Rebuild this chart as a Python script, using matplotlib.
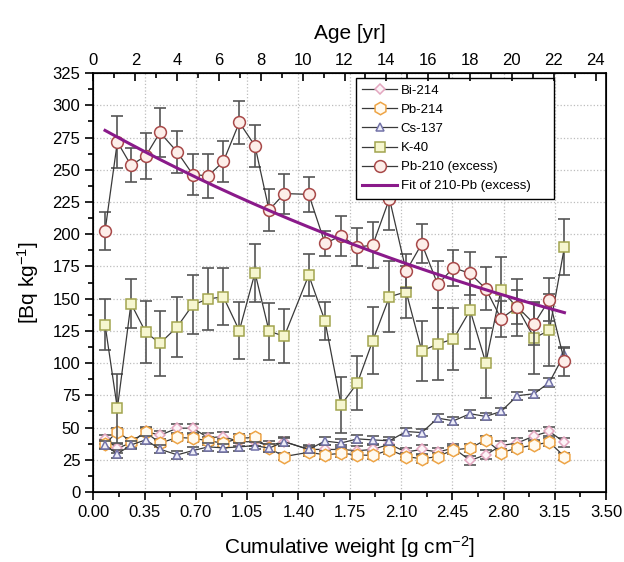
import numpy as np
import matplotlib
matplotlib.use("Agg")
import matplotlib.pyplot as plt
from matplotlib.ticker import MultipleLocator, FormatStrFormatter

plt.rcParams['font.family'] = ['Liberation Sans', 'DejaVu Sans']
plt.rcParams['mathtext.default'] = 'regular'

# ---- data ----
cum_weight = [0.079, 0.163, 0.256, 0.357, 0.454, 0.572, 0.678, 0.784, 0.887, 0.996,
              1.103, 1.199, 1.303, 1.470, 1.581, 1.691, 1.802, 1.907, 2.021, 2.135,
              2.242, 2.351, 2.458, 2.572, 2.679, 2.783, 2.895, 3.009, 3.113, 3.216]

bi214 = [41, 34, 38, 47, 44, 49.5, 49.5, 42, 43, 39, 39, 36, 39, 33, 33,
         33, 32, 33, 37, 31, 33, 31, 34, 24.5, 28.8, 36, 38, 43.5, 47, 38.5]
bi214_err = [3.5] * 30

pb214 = [37.1, 46.9, 39.1, 46.4, 37.9, 42.3, 41.7, 39.7, 37.9, 41.7, 42.3, 34.0, 27.5, 30.8, 28.8,
         30.0, 28.8, 28.3, 32.7, 27.5, 25.7, 27.5, 32.7, 34.0, 40.4, 30.6, 34.0, 36.5, 38.6, 27.5]
pb214_err = [3.0] * 30

cs137 = [36.5, 29.5, 36.5, 40.4, 33.2, 28.8, 32.1, 35.0, 34.2, 35.0, 36.0, 34.0, 39.0, 33.0, 39.5,
         38.0, 41.2, 40.4, 39.7, 46.9, 46.1, 57.3, 55.2, 60.7, 58.6, 62.5, 74.7, 76.2, 85.0, 107.0]
cs137_err = [3, 3, 3, 3, 3, 3, 3, 3, 3, 3, 3, 3, 3, 3, 3,
             3, 3, 3, 3, 3, 3, 3, 3, 3, 3, 3, 3, 3, 3.5, 5]

k40 = [129.9, 64.8, 146.2, 123.9, 115.3, 128.1, 145.2, 149.8, 151.4, 125.2, 170.1, 124.7, 120.8, 168.2, 132.7,
       67.5, 84.5, 117.4, 151.4, 155.3, 109.4, 114.8, 118.7, 141.0, 100.1, 157.0, 143.0, 119.5, 125.4, 190.0]
k40_err = [20, 27, 19, 24, 25, 23, 23, 24, 22, 22, 22.6, 22, 21, 16.5, 15,
           21.6, 21, 26, 27.6, 20, 23, 27.6, 24, 30, 27, 25, 22, 28, 28, 22]

pb210 = [202.4, 271.6, 253.5, 260.7, 278.9, 263.8, 246.3, 245.2, 256.4, 286.7, 268.5, 218.7, 231.5, 230.9, 192.8,
         198.8, 190.0, 191.5, 227.6, 171.3, 192.6, 161.0, 174.0, 169.5, 157.6, 134.5, 143.6, 130.4, 149.3, 101.3]
pb210_err = [14.6, 20, 13, 17.7, 18.7, 16.6, 16, 17, 16, 16.8, 16.5, 16, 15.5, 13.6, 10,
             15.5, 14.8, 17.8, 24, 13, 15, 18, 14, 17, 16.6, 14, 13, 16, 17, 11]

# exponential fit parameters of excess 210-Pb
fit_A0 = 285.5
fit_lambda = 0.2235

age_limits = (0, 24.5)

# ---- figure ----
fig = plt.figure(figsize=(6.24, 5.62), dpi=100)
ax = fig.add_axes([0.1498, 0.1246, 0.8214, 0.7454])

line_c = '#3a3a3a'
err_c = '#555555'

series = [
    ("Bi-214", bi214, bi214_err, 'D', 5.0, '#e3a6bf', '#fdf4f8'),
    ("Pb-214", pb214, pb214_err, 'h', 9.0, '#eea445', '#fffaf0'),
    ("Cs-137", cs137, cs137_err, '^', 6.0, '#7272a8', '#eeeef8'),
    ("K-40", k40, k40_err, 's', 7.5, '#a2a44e', '#f6f6cf'),
    ("Pb-210 (excess)", pb210, pb210_err, 'o', 8.5, '#a84848', '#fdeee9'),
]

for i, (lab, vals, errs, mk, ms, ec, fc) in enumerate(series):
    ax.errorbar(cum_weight, vals, yerr=errs, fmt='none', ecolor=err_c,
                elinewidth=1.2, capsize=4, capthick=1.2, zorder=2 + 2 * i)
    ax.plot(cum_weight, vals, color=line_c, linewidth=0.9, marker=mk, markersize=ms,
            markeredgecolor=ec, markerfacecolor=fc, markeredgewidth=1.1,
            label=lab, zorder=3 + 2 * i)

xf = np.linspace(cum_weight[0], cum_weight[-1], 200)
ax.plot(xf, fit_A0 * np.exp(-fit_lambda * xf), color='#8a1a8a', linewidth=2.2,
        label="Fit of 210-Pb (excess)", zorder=20)

ax.set_xlim(0, 3.5)
ax.set_ylim(0, 325)
ax.xaxis.set_major_locator(MultipleLocator(0.35))
ax.xaxis.set_minor_locator(MultipleLocator(0.175))
ax.xaxis.set_major_formatter(FormatStrFormatter('%.2f'))
ax.yaxis.set_major_locator(MultipleLocator(25))
ax.yaxis.set_minor_locator(MultipleLocator(12.5))
ax.tick_params(axis='both', which='major', direction='out', length=6, width=1.2, labelsize=12)
ax.tick_params(axis='both', which='minor', direction='out', length=3.5, width=1.2)
ax.tick_params(axis='x', which='both', top=False)
ax.tick_params(axis='y', which='both', right=False)
ax.grid(True, which='major', linestyle=':', color='#bdbdbd', linewidth=0.9)
ax.set_axisbelow(True)
for s in ax.spines.values():
    s.set_linewidth(1.2)

ax.set_xlabel("Cumulative weight [g cm$^{-2}$]", fontsize=15, labelpad=10)
ax.set_ylabel("[Bq kg$^{-1}$]", fontsize=15, labelpad=8)

ax2 = ax.twiny()
ax2.set_xlim(*age_limits)
ax2.xaxis.set_major_locator(MultipleLocator(2))
ax2.xaxis.set_minor_locator(MultipleLocator(1))
ax2.tick_params(axis='x', which='major', direction='in', length=6, width=1.2, labelsize=12)
ax2.tick_params(axis='x', which='minor', direction='in', length=3.5, width=1.2)
ax2.set_xlabel("Age [yr]", fontsize=15, labelpad=10)

leg = ax.legend(loc='upper left', bbox_to_anchor=(0.512, 0.988, 0.3865, 0.0), mode='expand',
                fontsize=9.5, frameon=True, fancybox=False, framealpha=1, edgecolor='black',
                handlelength=2.6, handletextpad=0.3, borderpad=0.5, labelspacing=0.52,
                borderaxespad=0)
leg.get_frame().set_linewidth(1.0)
leg.set_zorder(30)

fig.savefig("out.png", dpi=100)
